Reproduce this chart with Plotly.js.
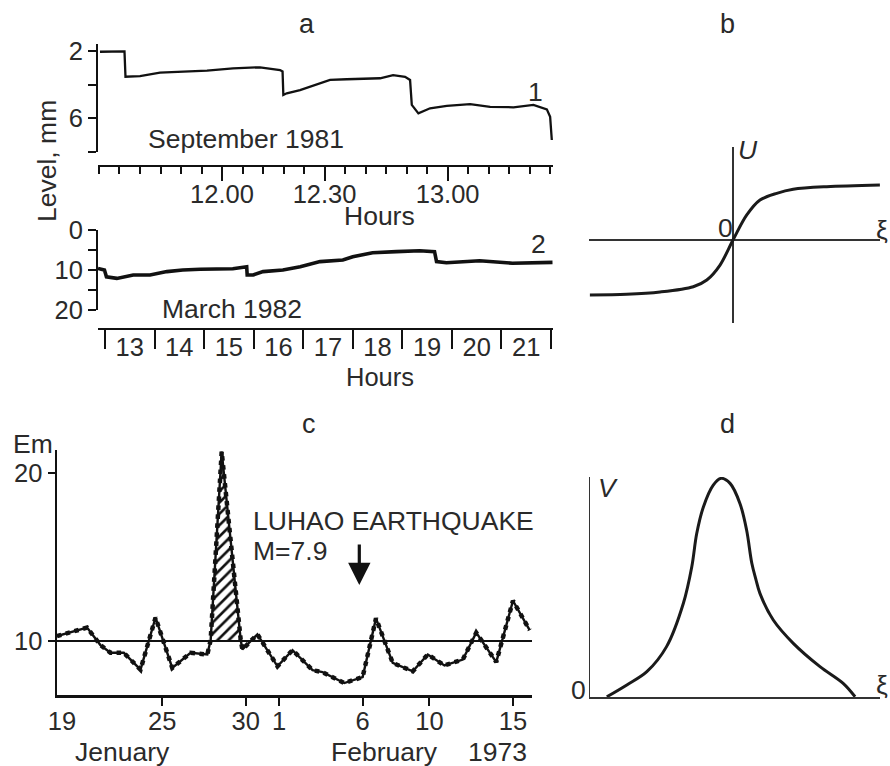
<!DOCTYPE html>
<html><head><meta charset="utf-8">
<script src="https://cdn.plot.ly/plotly-3.0.1.min.js"></script>
<style>html,body{margin:0;padding:0;background:#fff;}#chart{width:890px;height:766px;}</style>
</head><body><div id="chart"></div>
<script>
// ---- Panel a, record 1: September 1981 (minutes from first tick, level in mm)
const sepMinutes = [0.24, 5.85, 6.22, 6.46, 10.0, 14.88, 20.49, 26.34, 32.68, 39.27, 44.15, 44.76, 44.95, 45.78, 49.02, 53.9, 56.34, 60.41, 68.54, 71.71, 74.63, 75.85, 76.27, 77.88, 80.73, 84.8, 90.49, 95.37, 101.05, 105.93, 109.2, 110.0, 110.41];
const sepLevel = [2.06, 2.0, 2.04, 3.54, 3.50, 3.30, 3.24, 3.18, 3.04, 2.98, 3.14, 3.23, 4.62, 4.52, 4.33, 3.93, 3.73, 3.69, 3.63, 3.44, 3.54, 3.73, 5.21, 5.71, 5.41, 5.27, 5.16, 5.32, 5.35, 5.21, 5.47, 5.91, 7.29];
const sepTickVals = [30, 55, 85];
const sepTickText = ['12.00', '12.30', '13.00'];
const sepLevelTicks = [2, 6];

// ---- Panel a, record 2: March 1982 (hours, level in mm)
const marHours = [12.86, 12.99, 13.03, 13.24, 13.57, 13.91, 14.25, 14.57, 14.92, 15.26, 15.58, 15.86, 15.87, 15.99, 16.19, 16.59, 16.94, 17.34, 17.8, 18.0, 18.4, 18.88, 19.35, 19.65, 19.69, 19.89, 20.56, 21.22, 22.03];
const marLevel = [9.6, 10.0, 11.7, 12.1, 11.25, 11.25, 10.4, 10.0, 9.8, 9.75, 9.7, 9.2, 11.25, 11.25, 10.4, 10.0, 9.2, 7.9, 7.5, 6.7, 5.7, 5.4, 5.2, 5.4, 7.9, 8.2, 7.7, 8.3, 8.1];
const marTickVals = [13.5, 14.5, 15.5, 16.5, 17.5, 18.5, 19.5, 20.5, 21.5];
const marTickText = ['13', '14', '15', '16', '17', '18', '19', '20', '21'];
const marLevelTicks = [0, 10, 20];

// ---- Panel b: U(xi)
const bXi = [-5.30, -3.94, -2.70, -1.47, -0.97, -0.48, 0, 0.51, 1.0, 1.62, 2.23, 3.47, 5.44];
const bU = [-1.0, -0.987, -0.945, -0.849, -0.727, -0.455, 0, 0.455, 0.727, 0.849, 0.922, 0.969, 1.0];

// ---- Panel c: Em, Jan 19 - Feb 16 1973 (day count from Jan 1; Feb 1 = 32)
const emDay = [18.7, 20.5, 21.3, 21.9, 22.7, 23.7, 24.6, 25.6, 26.7, 27.7, 27.9, 28.56, 29.7, 29.8, 30.7, 31.9, 32.8, 34.0, 34.6, 35.9, 37.0, 37.8, 38.8, 40.0, 40.9, 41.9, 43.0, 43.8, 45.0, 46.0, 47.0];
const emValue = [10.3, 10.8, 9.76, 9.3, 9.3, 8.3, 11.4, 8.4, 9.3, 9.2, 10.06, 21.27, 10.06, 9.5, 10.4, 8.5, 9.46, 8.27, 8.15, 7.5, 7.86, 11.35, 8.7, 8.2, 9.2, 8.55, 8.9, 10.5, 8.75, 12.4, 10.65];
const emBaseline = 10;
const emTickVals = [19, 25, 30, 32, 37, 41, 46];
const emTickText = ['19', '25', '30', '1', '6', '10', '15'];
const emTickMarks = [25, 30, 32, 37, 41, 46];
const emLevelTicks = [10, 20];
const quakeDay = 36.8, quakeEm = 13.33;

// ---- Panel d: V(xi)
const dXi = [0.58, 1.27, 1.96, 2.64, 3.22, 3.51, 3.68, 3.91, 4.25, 4.52, 4.83, 5.17, 5.40, 5.58, 5.72, 5.86, 6.32, 7.01, 7.93, 8.73, 9.14];
const dV = [0.01, 0.55, 1.15, 2.29, 4.26, 5.92, 7.43, 8.64, 9.63, 9.94, 9.71, 8.80, 7.59, 6.08, 5.35, 4.71, 3.50, 2.44, 1.38, 0.62, 0.01];

// ---------------------------------------------------------------
const W = 890, H = 766;
const fx = p => p / W;
const fy = p => 1 - p / H;
const INK = '#111';
const TXT = '#2a2a2a';
const FONT = 'Liberation Sans, Arial, Helvetica, sans-serif';

// hatched peak region built from data (points above baseline around the main peak)
const peakIdx = [10, 11, 12];
const hatchX = peakIdx.map(i => emDay[i]);
const hatchY = peakIdx.map(i => Math.max(emValue[i], emBaseline));
hatchY[0] = emBaseline; hatchY[hatchY.length - 1] = emBaseline;

const traces = [
  {x: sepMinutes, y: sepLevel, xaxis: 'x', yaxis: 'y', mode: 'lines', line: {color: INK, width: 2.3}, hoverinfo: 'skip'},
  {x: marHours, y: marLevel, xaxis: 'x2', yaxis: 'y2', mode: 'lines', line: {color: INK, width: 3.6}, hoverinfo: 'skip'},
  {x: hatchX, y: hatchY, xaxis: 'x3', yaxis: 'y3', mode: 'lines', fill: 'toself', fillcolor: 'white',
   fillpattern: {shape: '/', size: 8, solidity: 0.33, fgcolor: INK, bgcolor: 'white'}, line: {width: 0}, hoverinfo: 'skip'},
  {x: [emDay[0], emDay[emDay.length - 1] + 0.14], y: [emBaseline, emBaseline], xaxis: 'x3', yaxis: 'y3', mode: 'lines', line: {color: INK, width: 2}, hoverinfo: 'skip'},
  {x: emDay, y: emValue, xaxis: 'x3', yaxis: 'y3', mode: 'lines', line: {color: INK, width: 2.4}, hoverinfo: 'skip'},
  {x: emDay, y: emValue, xaxis: 'x3', yaxis: 'y3', mode: 'lines', line: {color: INK, width: 4.5, dash: 'dot'}, hoverinfo: 'skip'},
  {x: bXi, y: bU, xaxis: 'x4', yaxis: 'y4', mode: 'lines', line: {color: '#1a1a1a', width: 3, shape: 'spline', smoothing: 0.9}, hoverinfo: 'skip'},
  {x: dXi, y: dV, xaxis: 'x5', yaxis: 'y5', mode: 'lines', line: {color: '#1a1a1a', width: 3, shape: 'spline', smoothing: 1}, hoverinfo: 'skip'}
];

const hidden = {showgrid: false, zeroline: false, showticklabels: false, ticks: ''};
const AS = 26.5;

function ann(text, px, py, opts) {
  return Object.assign({text: text, xref: 'paper', yref: 'paper', x: fx(px), y: fy(py),
    xanchor: 'center', yanchor: 'middle', showarrow: false, font: {size: AS, color: TXT}}, opts || {});
}

const layout = {
  width: W, height: H,
  margin: {l: 0, r: 0, t: 0, b: 0},
  paper_bgcolor: 'white', plot_bgcolor: 'rgba(0,0,0,0)',
  showlegend: false,
  font: {family: FONT, size: 25, color: TXT},
  // panel a top
  xaxis: {domain: [fx(98), fx(553)], range: [-0.24, 110.7], anchor: 'free', position: fy(166),
    showline: true, linecolor: INK, linewidth: 2, showgrid: false, zeroline: false,
    tickmode: 'array', tickvals: sepTickVals, ticktext: sepTickText, ticks: 'outside', ticklen: 14, tickwidth: 2, tickcolor: INK,
    ticklabelstandoff: -9,
    minor: {tickmode: 'linear', tick0: 0, dtick: 5, ticks: 'outside', ticklen: 7, tickwidth: 2, tickcolor: INK, showgrid: false},
    tickfont: {size: 25.5}},
  yaxis: {domain: [fy(152), fy(44)], range: [8, 1.6], anchor: 'x',
    showline: true, linecolor: INK, linewidth: 2, showgrid: false, zeroline: false,
    tickmode: 'array', tickvals: sepLevelTicks, ticks: 'outside', ticklen: 8, tickwidth: 2, tickcolor: INK,
    minor: {tickmode: 'linear', tick0: 0, dtick: 2, ticks: 'outside', ticklen: 8, tickwidth: 2, tickcolor: INK, showgrid: false},
    tickfont: {size: 25.5}},
  // panel a bottom
  xaxis2: {domain: [fx(98), fx(553)], range: [12.86, 22.04], anchor: 'free', position: fy(329),
    showline: true, linecolor: INK, linewidth: 2, showgrid: false, zeroline: false,
    tickmode: 'array', tickvals: marTickVals, ticktext: marTickText, ticks: '', ticklabelstandoff: -5,
    minor: {tickmode: 'linear', tick0: 13, dtick: 1, ticks: 'outside', ticklen: 19, tickwidth: 2, tickcolor: INK, showgrid: false},
    tickfont: {size: 25.5}},
  yaxis2: {domain: [fy(310), fy(230)], range: [20, 0], anchor: 'x2',
    showline: true, linecolor: INK, linewidth: 2, showgrid: false, zeroline: false,
    tickmode: 'array', tickvals: marLevelTicks, ticks: 'outside', ticklen: 8, tickwidth: 2, tickcolor: INK,
    minor: {tickmode: 'linear', tick0: 0, dtick: 5, ticks: 'outside', ticklen: 8, tickwidth: 2, tickcolor: INK, showgrid: false},
    tickfont: {size: 25.5}},
  // panel c
  xaxis3: {domain: [fx(57), fx(532)], range: [18.7, 47.14], anchor: 'y3',
    showline: true, linecolor: INK, linewidth: 2.5, showgrid: false, zeroline: false,
    tickmode: 'array', tickvals: emTickVals, ticktext: emTickText, ticks: '', ticklabelstandoff: 2,
    minor: {tickmode: 'array', tickvals: emTickMarks, ticks: 'outside', ticklen: 8, tickwidth: 2, tickcolor: INK, showgrid: false},
    tickfont: {size: 25.5}},
  yaxis3: {domain: [fy(695), fy(450)], range: [6.79, 21.37], anchor: 'x3',
    showline: true, linecolor: INK, linewidth: 2.5, showgrid: false, zeroline: false,
    tickmode: 'array', tickvals: emLevelTicks, ticks: 'outside', ticklen: 7, tickwidth: 2, tickcolor: INK,
    tickfont: {size: 25.5}},
  // panel b
  xaxis4: Object.assign({domain: [fx(589), fx(880)], range: [-5.333, 5.444], anchor: 'y4', showline: false}, hidden,
    {zeroline: true, zerolinecolor: '#333', zerolinewidth: 1.5}),
  yaxis4: Object.assign({domain: [fy(323), fy(147)], range: [-1.509, 1.691], anchor: 'x4', showline: false}, hidden,
    {zeroline: true, zerolinecolor: '#333', zerolinewidth: 1.5}),
  // panel d
  xaxis5: Object.assign({domain: [fx(590), fx(880)], range: [0, 10], anchor: 'y5', showline: true, linecolor: '#333', linewidth: 1.5}, hidden),
  yaxis5: Object.assign({domain: [fy(697), fy(477)], range: [0, 10], anchor: 'x5', showline: true, linecolor: '#333', linewidth: 1.5}, hidden),
  annotations: [
    ann('a', 307, 24, {font: {size: 27, color: TXT}}),
    ann('b', 727, 24, {font: {size: 27, color: TXT}}),
    ann('c', 309, 424, {font: {size: 27, color: TXT}}),
    ann('d', 727, 424, {font: {size: 27, color: TXT}}),
    ann('Level, mm', 47, 161, {textangle: -90}),
    ann('September 1981', 246, 139),
    ann('1', 535, 92),
    ann('Hours', 379, 216),
    ann('March 1982', 232, 309),
    ann('2', 538, 244),
    ann('Hours', 380, 377, {font: {size: 25.5, color: TXT}}),
    ann('Em', 33, 444),
    ann('LUHAO EARTHQUAKE', 251, 521, {xanchor: 'left'}),
    ann('M=7.9', 251, 551, {xanchor: 'left'}),
    {text: '', xref: 'x3', yref: 'y3', x: quakeDay, y: quakeEm, showarrow: true, ax: 0, ay: -42,
     arrowhead: 2, arrowsize: 1.4, arrowwidth: 3.2, arrowcolor: INK, standoff: 0},
    ann('Jenuary', 122, 752),
    ann('February', 384, 752),
    ann('1973', 498, 752),
    ann('<i>U</i>', 748, 150),
    ann('0', 725, 228),
    ann('ξ', 882, 230),
    ann('<i>V</i>', 608, 488),
    ann('0', 578, 690),
    ann('ξ', 882, 685)
  ]
};

Plotly.newPlot('chart', traces, layout, {staticPlot: true, displayModeBar: false});
</script>
</body></html>
